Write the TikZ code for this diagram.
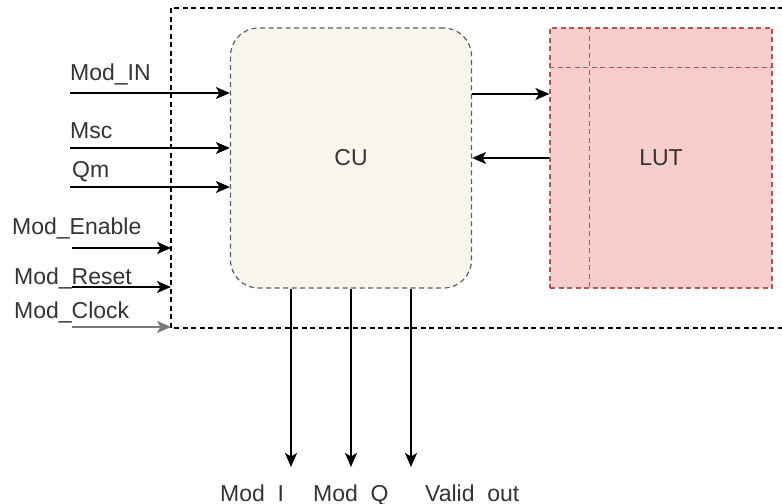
\documentclass[tikz,border=0pt]{standalone}
\usepackage{fontspec}
\setmainfont{Liberation Sans}
\usetikzlibrary{arrows.meta,calc}
\definecolor{cufill}{HTML}{F9F7ED}
\definecolor{cuedge}{HTML}{5E5E5E}
\definecolor{lutfill}{HTML}{F8CECC}
\definecolor{lutedge}{HTML}{B85450}
\definecolor{txt}{HTML}{333333}
\definecolor{clkline}{HTML}{7A7A7A}
\begin{document}
\begin{tikzpicture}[x=1bp,y=-1bp,
  lbl/.style={inner sep=0pt, anchor=base west, text=txt, font=\fontsize{23bp}{27bp}\selectfont},
  sig/.style={draw=black, line width=1.4bp, -{Stealth[length=14bp,width=12bp,inset=3.5bp]}},
  dsh/.style={dash pattern=on 5bp off 3.5bp},
  block/.style={dsh, line width=1.2bp, inner sep=0pt, text=txt,
    font=\fontsize{23bp}{27bp}\selectfont, minimum height=260bp}
]
\useasboundingbox (0,0) rectangle (782,504);

% system frame, open on the right
\coordinate (frameW) at (171,0);
\draw[dsh, line width=1.2bp] (800,8) -| (171,328) -- (800,328);

% control unit and look-up table
\node[block, draw=cuedge, fill=cufill, rounded corners=28bp,
      minimum width=241bp] (cu) at (351,158) {CU};
\node[block, draw=lutedge, fill=lutfill, minimum width=222bp] (lut) at (661,158) {LUT};
\draw[lutedge, dsh, line width=1.2bp] ($(lut.north west)+(40,0)$) -- ($(lut.south west)+(40,0)$);
\draw[lutedge, dsh, line width=1.2bp] ($(lut.north west)+(0,40)$) -- ($(lut.north east)+(0,40)$);

% CU <-> LUT
\draw[sig] ([yshift=64bp]cu.east) -- ([yshift=64bp]lut.west);
\draw[sig] (lut.west) -- (cu.east);

% inputs to CU
\coordinate (pIN)  at (70,93);
\coordinate (pMsc) at (70,148);
\coordinate (pQm)  at (70,187);
\node[lbl] (lIN)  at (70,81)  {Mod\_IN};
\node[lbl] (lMsc) at (70,139) {Msc};
\node[lbl] (lQm)  at (72,178) {Qm};
\draw[sig] (pIN)  -- (pIN  -| cu.west);
\draw[sig] (pMsc) -- (pMsc -| cu.west);
\draw[sig] (pQm)  -- (pQm  -| cu.west);

% control inputs to the frame
\coordinate (pEn)  at (72,248);
\coordinate (pRst) at (72,287);
\coordinate (pClk) at (72,327);
\node[lbl] (lEn)  at (12,235) {Mod\_Enable};
\node[lbl] (lRst) at (14,285) {Mod\_Reset};
\node[lbl] (lClk) at (14,318) {Mod\_Clock};
\draw[sig] (pEn)  -- (pEn  -| frameW);
\draw[sig] (pRst) -- (pRst -| frameW);
\draw[sig, draw=clkline, line width=2bp] (pClk) -- (pClk -| frameW);

% outputs (their labels sit on the lower edge of the page)
\coordinate (oI) at (291,467);
\coordinate (oQ) at (351,467);
\coordinate (oV) at (411,467);
\draw[sig] (cu.south -| oI) -- (oI);
\draw[sig] (cu.south -| oQ) -- (oQ);
\draw[sig] (cu.south -| oV) -- (oV);
\node[lbl] (lI) at (220,501) {Mod\_I};
\node[lbl] (lQ) at (313,501) {Mod\_Q};
\node[lbl] (lV) at (425,501) {Valid\_out};
\end{tikzpicture}
\end{document}
